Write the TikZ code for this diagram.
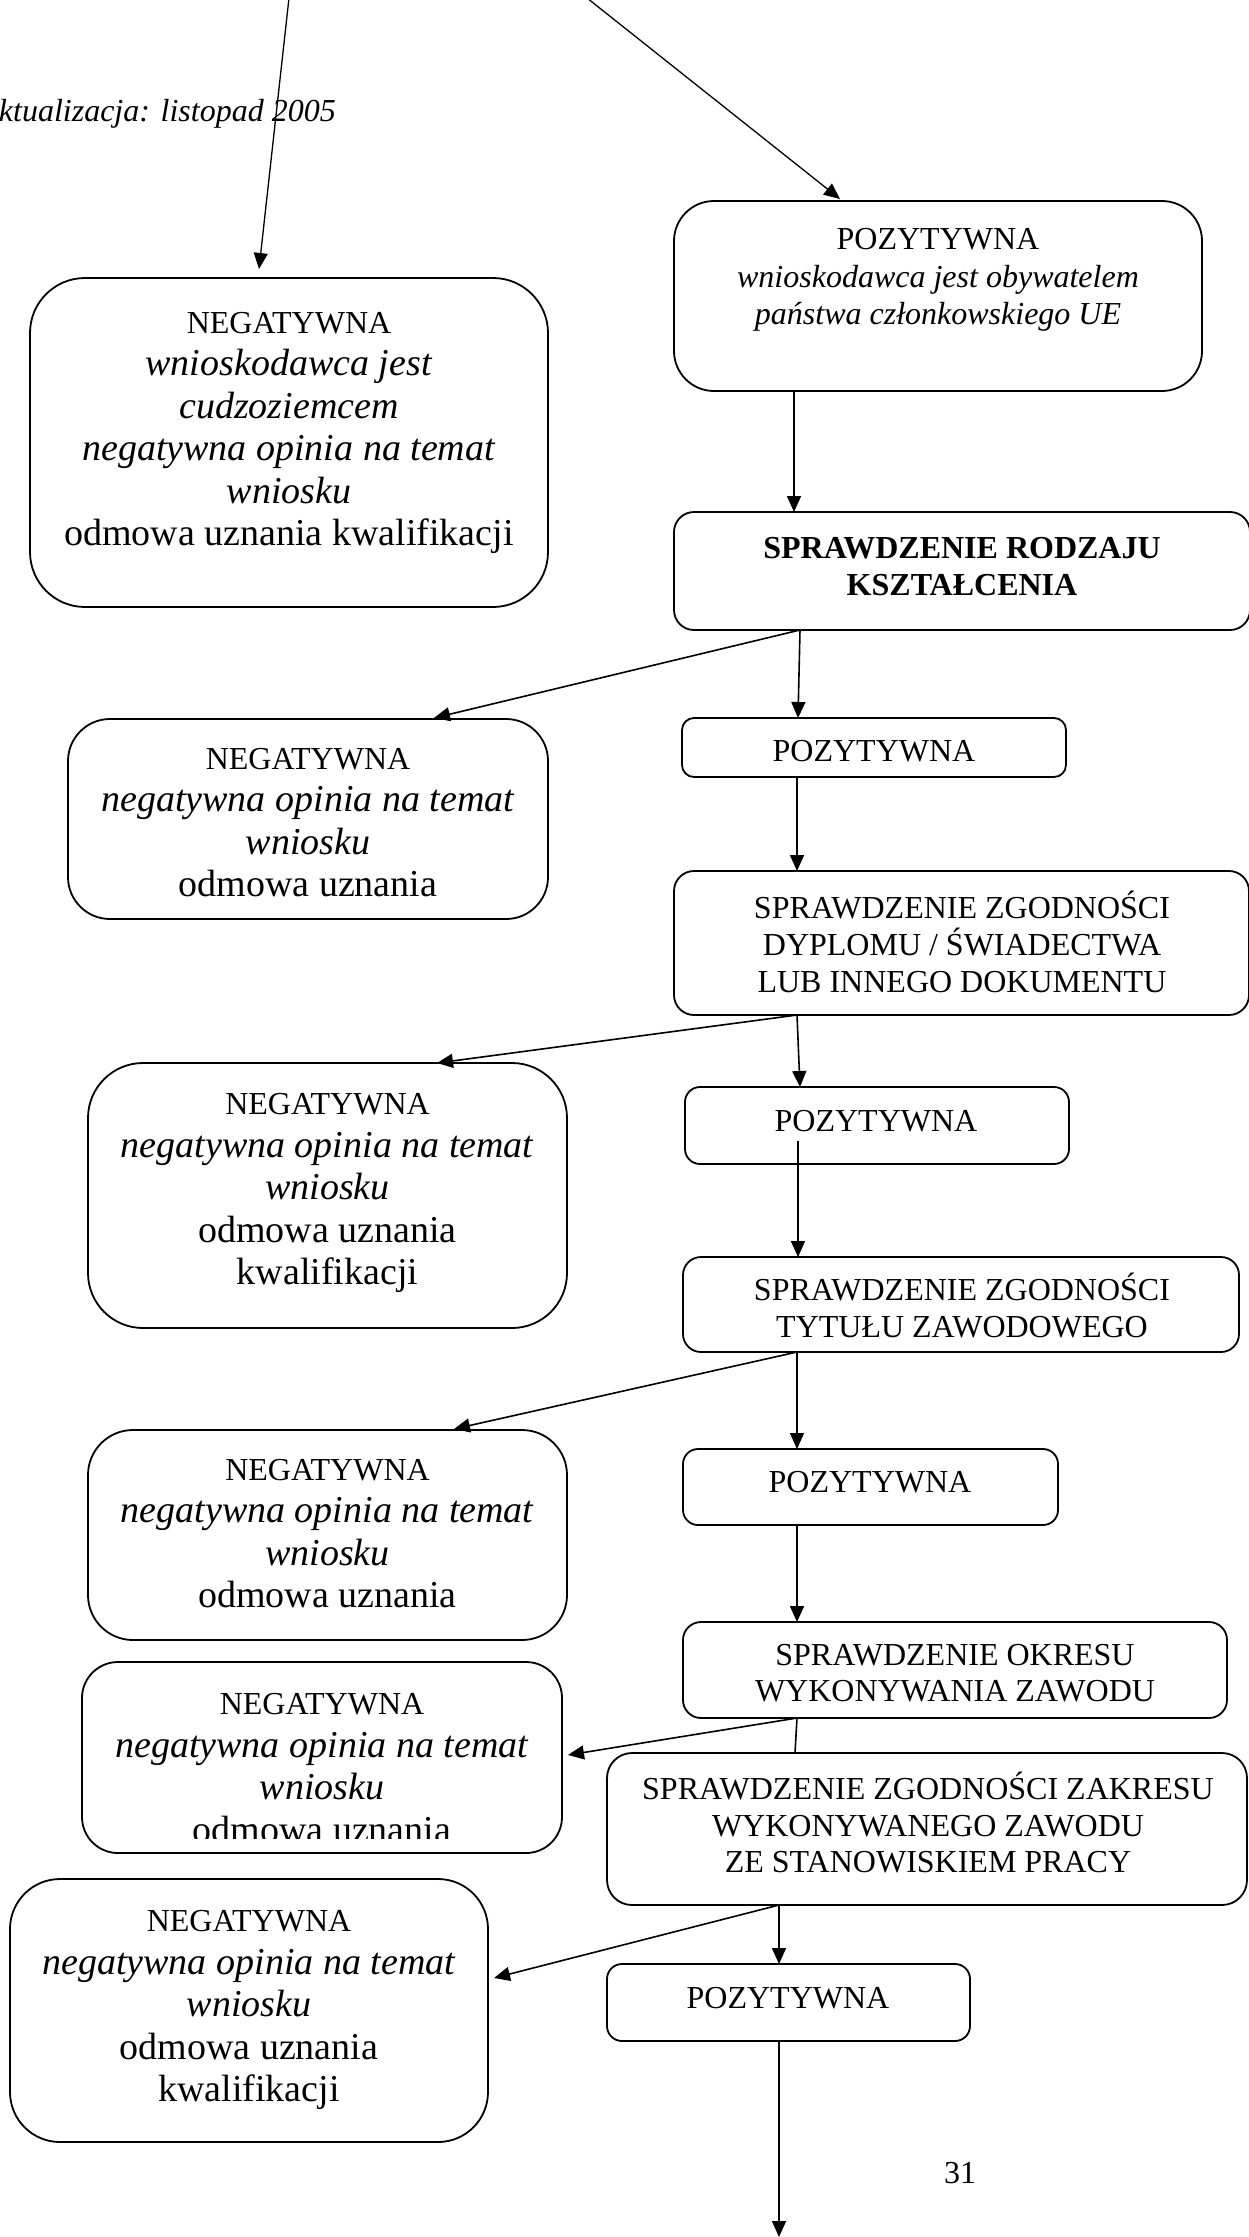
\documentclass[tikz,border=0pt]{standalone}
\usepackage{fontspec}
\setmainfont{Liberation Serif}
\usetikzlibrary{arrows.meta,calc}
\newcommand\fneg{\fontsize{38}{42.5}\selectfont}
\newcommand\fsmall{\fontsize{32}{36.6}\selectfont}
\newcommand\fnegh{\fontsize{32}{42.5}\selectfont}
\tikzset{
  rbox/.style={draw, line width=1.8pt, rounded corners=#1, inner sep=0pt, outer sep=0pt},
  txt/.style={align=center, inner sep=0pt},
  negtxt/.style={txt, font=\fneg},
  rtxt/.style={txt, font=\fsmall},
  arr/.style={line width=1.6pt, -{Triangle[length=16pt,width=14pt]}},
  plainln/.style={line width=1.6pt},
}
\begin{document}
\begin{tikzpicture}[x=1pt,y=-1pt]
\useasboundingbox (0,0) rectangle (1249,2237);

% header text
\node[anchor=base east, inner sep=0pt, font=\fontsize{32}{36}\selectfont\itshape] (upd) at (336,122) {aktualizacja: listopad 2005};
\coordinate (topL) at (289,-2);
\coordinate (topR) at (587,-2);

% boxes
\node[rbox=55pt, minimum width=518pt, minimum height=329pt] (neg1) at (289,442.5) {};
\node[rbox=40pt, minimum width=528pt, minimum height=190pt] (pozA) at (938,296) {};
\node[rbox=20pt, minimum width=576pt, minimum height=118pt] (rodz) at (962,571) {};
\node[rbox=42pt, minimum width=480pt, minimum height=200pt] (neg2) at (308,819) {};
\node[rbox=12pt, minimum width=384pt, minimum height=59pt] (poz2) at (874,747.5) {};
\node[rbox=20pt, minimum width=575pt, minimum height=144pt] (dypl) at (961.5,943) {};
\node[rbox=55pt, minimum width=479pt, minimum height=265pt] (neg3) at (327.5,1195.5) {};
\node[rbox=15pt, minimum width=384pt, minimum height=77pt] (poz3) at (877,1125.5) {};
\node[rbox=18pt, minimum width=556pt, minimum height=95pt] (tyt) at (961,1304.5) {};
\node[rbox=45pt, minimum width=479pt, minimum height=210pt] (neg4) at (327.5,1535) {};
\node[rbox=15pt, minimum width=375pt, minimum height=76pt] (poz4) at (870.5,1487) {};
\node[rbox=18pt, minimum width=544pt, minimum height=96pt] (okr) at (955,1670) {};
\node[rbox=36pt, minimum width=480pt, minimum height=191pt] (neg5) at (322,1757.5) {};
\node[rbox=25pt, minimum width=640pt, minimum height=152pt] (zak) at (927,1829) {};
\node[rbox=50pt, minimum width=478pt, minimum height=263pt] (neg6) at (249,2010.5) {};
\node[rbox=15pt, minimum width=363pt, minimum height=77pt] (poz5) at (788.5,2002.5) {};

% texts
\node[negtxt] (neg1t) at (289,433) {{\fnegh NEGATYWNA}\\ \textit{wnioskodawca jest}\\ \textit{cudzoziemcem}\\ \textit{negatywna opinia na temat}\\ \textit{wniosku}\\ odmowa uznania kwalifikacji};
\node[txt, font=\fontsize{32}{37.5}\selectfont] (pozAt) at (938,280) {POZYTYWNA\\ \textit{wnioskodawca jest obywatelem}\\ \textit{państwa członkowskiego UE}};
\node[rtxt, font=\fsmall\bfseries] (rodzt) at (962,566.5) {SPRAWDZENIE RODZAJU\\ KSZTAŁCENIA};
\node[negtxt] (neg2t) at (308,822.5) {{\fnegh NEGATYWNA}\\ \textit{negatywna opinia na temat}\\ \textit{wniosku}\\ odmowa uznania};
\node[rtxt] (poz2t) at (874,751) {POZYTYWNA};
\node[rtxt] (dyplt) at (962,942) {SPRAWDZENIE ZGODNOŚCI\\ DYPLOMU / ŚWIADECTWA\\ LUB INNEGO DOKUMENTU};
\node[negtxt] (neg3t) at (327.5,1193) {{\fnegh NEGATYWNA}\\ \textit{negatywna opinia na temat}\\ \textit{wniosku}\\ odmowa uznania\\ kwalifikacji};
\node[rtxt] (poz3t) at (876,1121) {POZYTYWNA};
\node[rtxt] (tytt) at (962,1305.5) {SPRAWDZENIE ZGODNOŚCI\\ TYTUŁU ZAWODOWEGO};
\node[negtxt] (neg4t) at (327.5,1533.5) {{\fnegh NEGATYWNA}\\ \textit{negatywna opinia na temat}\\ \textit{wniosku}\\ odmowa uznania};
\node[rtxt] (poz4t) at (870,1482) {POZYTYWNA};
\node[rtxt] (okrt) at (955,1673) {SPRAWDZENIE OKRESU\\ WYKONYWANIA ZAWODU};
\begin{scope}
  \clip (70,1650) rectangle (570,1838);
  \node[negtxt] (neg5t) at (322,1768) {{\fnegh NEGATYWNA}\\ \textit{negatywna opinia na temat}\\ \textit{wniosku}\\ odmowa uznania};
\end{scope}
\node[rtxt] (zakt) at (928,1822.5) {SPRAWDZENIE ZGODNOŚCI ZAKRESU\\ WYKONYWANEGO ZAWODU\\ ZE STANOWISKIEM PRACY};
\node[negtxt] (neg6t) at (249,2010) {{\fnegh NEGATYWNA}\\ \textit{negatywna opinia na temat}\\ \textit{wniosku}\\ odmowa uznania\\ kwalifikacji};
\node[rtxt] (poz5t) at (788,1998) {POZYTYWNA};
\node[inner sep=0pt, font=\fsmall] (pnum) at (960,2173) {31};
\coordinate (bottomEnd) at (779,2237);

% connectors
\draw[arr, line width=1.3pt] (topL) -- ($(neg1.north -| 259,0)+(0,-9)$);
\draw[arr, line width=1.3pt] (topR) -- ($(pozA.north -| 840,0)+(0,-2)$);
\draw[arr] (pozA.south -| 794,0) -- (rodz.north -| 794,0);
\draw[arr] (rodz.south -| 800,0) -- ($(neg2.north -| 434,0)+(0,-1)$);
\draw[arr] (rodz.south -| 800,0) -- (poz2.north -| 798,0);
\draw[arr] (poz2.south -| 797,0) -- (dypl.north -| 797,0);
\draw[arr] (dypl.south -| 797,0) -- (neg3.north -| 437,0);
\draw[arr] (dypl.south -| 797,0) -- (poz3.north -| 800,0);
\draw[arr] ($(poz3.south -| 798,0)+(0,-23)$) -- (tyt.north -| 798,0);
\draw[arr] (tyt.south -| 797,0) -- ($(neg4.north -| 454,0)+(0,-1)$);
\draw[arr] (tyt.south -| 797,0) -- (poz4.north -| 797,0);
\draw[arr] (poz4.south -| 797,0) -- (okr.north -| 797,0);
\draw[arr] (okr.south -| 797,0) -- ($(neg5.east |- 0,1755)+(6,0)$);
\draw[plainln] (okr.south -| 797,0) -- (zak.north -| 795,0);
\draw[arr] (zak.south -| 779,0) -- ($(neg6.east |- 0,1978)+(6,0)$);
\draw[arr] (zak.south -| 779,0) -- (poz5.north -| 779,0);
\draw[arr] (poz5.south -| 779,0) -- (bottomEnd);
\end{tikzpicture}
\end{document}
